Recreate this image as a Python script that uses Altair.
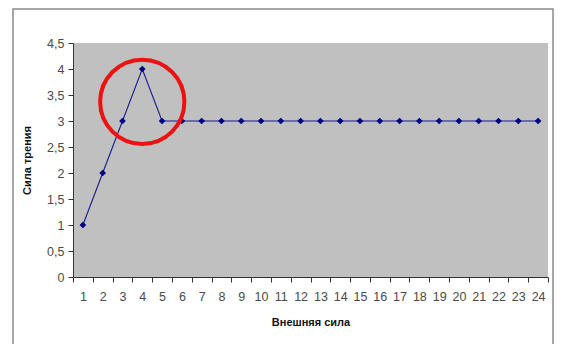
import altair as alt
import pandas as pd

# Data
x_vals = [1, 2, 3, 4, 5, 6, 7, 8, 9, 10, 11, 12, 13, 14, 15, 16, 17, 18, 19, 20, 21, 22, 23, 24]
y_vals = [1, 2, 3, 4, 3, 3, 3, 3, 3, 3, 3, 3, 3, 3, 3, 3, 3, 3, 3, 3, 3, 3, 3, 3]
y_ticks = [0, 0.5, 1, 1.5, 2, 2.5, 3, 3.5, 4, 4.5]
highlight_x = [4]
highlight_y = [3.37]

df = pd.DataFrame({"x": x_vals, "y": y_vals})
hl = pd.DataFrame({"x": highlight_x, "y": highlight_y})
frame_df = pd.DataFrame({"a": [0]})

FONT = "Liberation Sans"

xscale = alt.Scale(type="band", paddingInner=0, paddingOuter=0, domain=x_vals)
yscale = alt.Scale(domain=[0, 4.5], nice=False)

x_axis = alt.Axis(
    title="Внешняя сила",
    labelAngle=0,
    tickBand="extent",
    tickSize=5,
    labelPadding=8,
    titlePadding=14,
    labelFont=FONT,
    labelFontSize=12.5,
    labelColor="#4a4a4a",
    titleFont=FONT,
    titleFontSize=11,
    titleFontWeight="bold",
    titleColor="#111111",
    domainColor="#333333",
    tickColor="#333333",
    grid=False,
)
y_axis = alt.Axis(
    title="Сила трения",
    values=y_ticks,
    labelExpr="replace(format(datum.value, '.1~f'), '.', ',')",
    labelOverlap=False,
    tickSize=5,
    labelPadding=4,
    titlePadding=14,
    labelFont=FONT,
    labelFontSize=12.5,
    labelColor="#4a4a4a",
    titleFont=FONT,
    titleFontSize=11,
    titleFontWeight="bold",
    titleColor="#111111",
    domainColor="#333333",
    tickColor="#333333",
    grid=False,
)

x_enc = alt.X("x:O", scale=xscale, axis=x_axis)
y_enc = alt.Y("y:Q", scale=yscale, axis=y_axis)

frame = alt.Chart(frame_df).mark_rect(
    filled=False, stroke="#8a8a8a", strokeWidth=1.5
).encode(
    x=alt.value(-60), x2=alt.value(480), y=alt.value(-34), y2=alt.value(340)
)

line = alt.Chart(df).mark_line(color="#1a1a8a", strokeWidth=1.1).encode(x=x_enc, y=y_enc)
pts = alt.Chart(df).mark_point(
    shape="diamond", filled=True, color="#000080", size=45, opacity=1
).encode(x=x_enc, y=y_enc)

circle = alt.Chart(hl).mark_point(
    shape="circle", filled=False, stroke="#ee1111", strokeWidth=4, size=7100, opacity=1
).encode(x=x_enc, y=y_enc)

chart = (
    alt.layer(frame, line, pts, circle)
    .properties(
        width=475,
        height=234,
        background="white",
        autosize=alt.AutoSizeParams(type="none"),
        padding={"left": 65, "top": 35, "right": 6, "bottom": 67},
    )
    .configure_view(fill="#c0c0c0", strokeWidth=0)
)

chart.save("out.html", embed_options={"renderer": "svg", "actions": False})
